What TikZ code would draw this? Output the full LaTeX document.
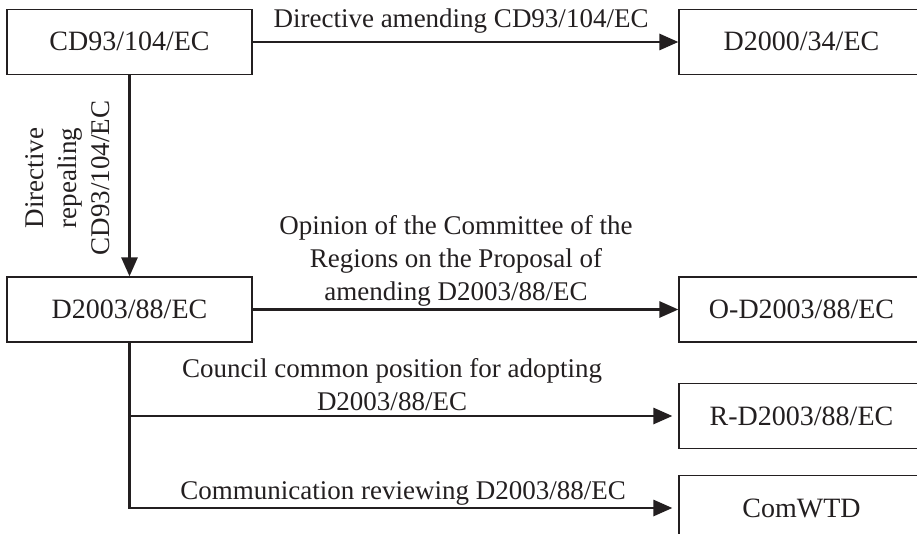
\documentclass[tikz,border=0pt]{standalone}
\usepackage{fontspec}
\setmainfont{Liberation Serif}
\usetikzlibrary{arrows.meta}
\definecolor{ink}{HTML}{231F20}
\begin{document}
\begin{tikzpicture}[x=1pt,y=-1pt,
  font=\fontsize{27}{33}\selectfont, color=ink,
  box/.style={draw=ink, line width=1.2pt, minimum width=245pt, minimum height=65pt,
    inner sep=0pt, text height=18pt, text depth=0pt, font=\fontsize{28}{33}\selectfont},
  conn/.style={draw=ink, line width=2.8pt, -{Triangle[length=19pt,width=16pt]}},
  lbl/.style={inner sep=0pt, align=center}]
\useasboundingbox (0,0) rectangle (917,534);
\clip (0,0) rectangle (917,534);
% boxes
\node[box] (b1) at (129.5,42) {CD93/104/EC};
\node[box] (b2) at (801.5,42) {D2000/34/EC};
\node[box] (b3) at (129.5,309.5) {D2003/88/EC};
\node[box] (bO) at (801.5,309.5) {O-D2003/88/EC};
\node[box] (bR) at (801.5,416) {R-D2003/88/EC};
\node[box] (bC) at (801.5,508) {ComWTD};
% connectors
\draw[conn] (b1.east) -- (b2.west);
\draw[conn] (b1.south) -- (b3.north);
\draw[conn] (b3.east) -- (bO.west);
\draw[conn, shorten >=6pt] (b3.south) |- (bC.west);
\draw[conn, shorten >=6pt] (b3.south |- bR.west) -- (bR.west);
% labels
\node[lbl, anchor=base] (l1) at (461,28) {Directive amending CD93/104/EC};
\node[lbl, rotate=90] (l2) at (68,178) {Directive\\repealing\\CD93/104/EC};
\node[lbl] (l3) at (456,261) {Opinion of the Committee of the\\Regions on the Proposal of\\amending D2003/88/EC};
\node[lbl] (l4) at (392,385) {Council common position for adopting\\D2003/88/EC};
\node[lbl, anchor=base] (l5) at (403,499) {Communication reviewing D2003/88/EC};
\end{tikzpicture}
\end{document}
